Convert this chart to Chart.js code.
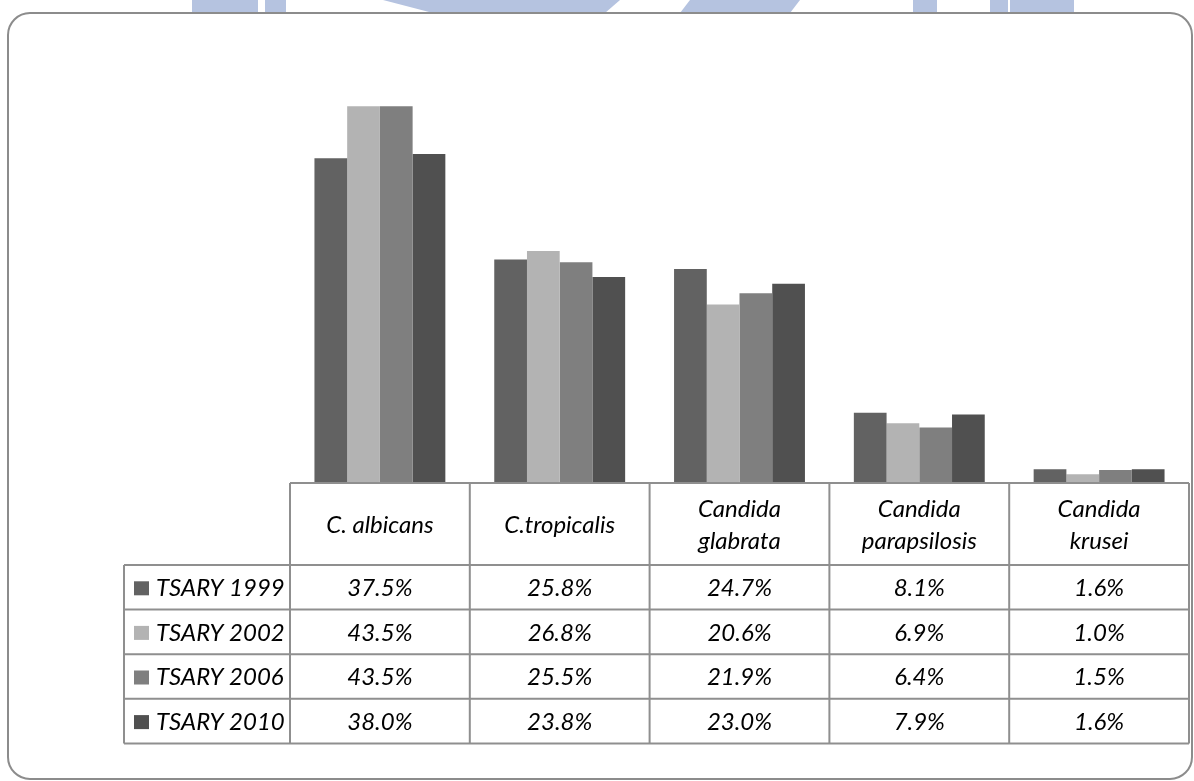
<!DOCTYPE html>
<html>
<head>
<meta charset="utf-8">
<script src="https://cdn.jsdelivr.net/npm/chart.js@4.4.1/dist/chart.umd.min.js"></script>
<style>
  html, body { margin: 0; padding: 0; background: #ffffff; }
  #wrap { position: relative; width: 1194px; height: 781px; }
  canvas { display: block; }
</style>
</head>
<body>
<div id="wrap"><canvas id="c" width="1194" height="781"></canvas></div>
<script>
const categories = [["C. albicans"], ["C.tropicalis"], ["Candida", "glabrata"], ["Candida", "parapsilosis"], ["Candida", "krusei"]];
const seriesNames = ["TSARY 1999", "TSARY 2002", "TSARY 2006", "TSARY 2010"];
const tsary1999 = [37.5, 25.8, 24.7, 8.1, 1.6];
const tsary2002 = [43.5, 26.8, 20.6, 6.9, 1.0];
const tsary2006 = [43.5, 25.5, 21.9, 6.4, 1.5];
const tsary2010 = [38.0, 23.8, 23.0, 7.9, 1.6];
const seriesValues = [tsary1999, tsary2002, tsary2006, tsary2010];
const seriesColors = ["#626262", "#b3b3b3", "#7f7f7f", "#505050"];

const FONT = "italic 24px Lato, 'Open Sans', sans-serif";
const LINE = "#8f8f8f";

const framePlugin = {
  id: 'frame',
  beforeDraw(chart) {
    const ctx = chart.ctx;
    ctx.save();
    ctx.fillStyle = '#ffffff';
    ctx.fillRect(0, 0, chart.width, chart.height);
    // faint watermark strip at top
    ctx.beginPath();
    ctx.rect(0, 0, chart.width, 13);
    ctx.clip();
    ctx.fillStyle = '#b5c3e0';
    ctx.fillRect(192, 0, 66, 13);
    ctx.fillRect(265, 0, 21, 13);
    ctx.beginPath();
    ctx.moveTo(383, 0); ctx.lineTo(620, 0); ctx.lineTo(605, 13); ctx.lineTo(433, 13); ctx.closePath(); ctx.fill();
    ctx.beginPath();
    ctx.moveTo(690, 0); ctx.lineTo(800, 0); ctx.lineTo(790, 13); ctx.lineTo(680, 13); ctx.closePath(); ctx.fill();
    ctx.fillRect(913, 0, 24, 13);
    ctx.fillRect(990, 0, 18, 13);
    ctx.fillRect(1010, 0, 64, 13);
    ctx.restore();
    // rounded frame
    ctx.save();
    ctx.strokeStyle = '#8c8c8c';
    ctx.lineWidth = 2;
    ctx.beginPath();
    ctx.roundRect(8, 13, 1184, 766, 22);
    ctx.stroke();
    ctx.restore();
  },
  afterDraw(chart) {
    const ctx = chart.ctx;
    const xs = chart.scales.x;
    const area = chart.chartArea;
    const top = area.bottom;
    const headerH = 82;
    const rowH = 44.6;
    const left = 124;
    const colL = area.left, colR = area.right;
    const n = categories.length;
    const catW = (colR - colL) / n;
    const bottom = top + headerH + rowH * seriesNames.length;
    ctx.save();
    ctx.strokeStyle = LINE;
    ctx.lineWidth = 2;
    ctx.beginPath();
    ctx.moveTo(colL, top); ctx.lineTo(colR, top);
    for (let r = 0; r <= seriesNames.length; r++) {
      const y = top + headerH + r * rowH;
      ctx.moveTo(left, y); ctx.lineTo(colR, y);
    }
    ctx.moveTo(left, top + headerH); ctx.lineTo(left, bottom);
    for (let i = 0; i <= n; i++) {
      const x = colL + i * catW;
      ctx.moveTo(x, top); ctx.lineTo(x, bottom);
    }
    ctx.stroke();

    ctx.fillStyle = '#000000';
    ctx.font = FONT;
    ctx.textAlign = 'center';
    ctx.textBaseline = 'middle';
    categories.forEach((lines, i) => {
      const cx = xs.getPixelForValue(i);
      const cy = top + headerH / 2 + 1;
      const lh = 32;
      const y0 = cy - (lines.length - 1) * lh / 2;
      lines.forEach((t, k) => ctx.fillText(t, cx, y0 + k * lh));
    });
    seriesNames.forEach((name, r) => {
      const cy = top + headerH + r * rowH + rowH / 2 + 1;
      ctx.fillStyle = seriesColors[r];
      ctx.fillRect(134, cy - 7, 15, 14);
      ctx.fillStyle = '#000000';
      ctx.textAlign = 'left';
      ctx.fillText(name, 156, cy);
      ctx.textAlign = 'center';
      seriesValues[r].forEach((v, i) => {
        ctx.fillText(v.toFixed(1) + '%', xs.getPixelForValue(i), cy);
      });
    });
    ctx.restore();
  }
};

new Chart(document.getElementById('c'), {
  type: 'bar',
  data: {
    labels: categories.map(c => c.join(' ')),
    datasets: seriesNames.map((name, r) => ({
      label: name,
      data: seriesValues[r],
      backgroundColor: seriesColors[r],
      borderWidth: 0,
      categoryPercentage: 0.728,
      barPercentage: 1.0
    }))
  },
  options: {
    responsive: false,
    devicePixelRatio: 1,
    animation: false,
    layout: { padding: { left: 290, right: 5, top: 50, bottom: 298 } },
    plugins: { legend: { display: false }, tooltip: { enabled: false } },
    scales: {
      x: { display: false, offset: true },
      y: { display: false, min: 0, max: 50 }
    }
  },
  plugins: [framePlugin]
});
</script>
</body>
</html>
